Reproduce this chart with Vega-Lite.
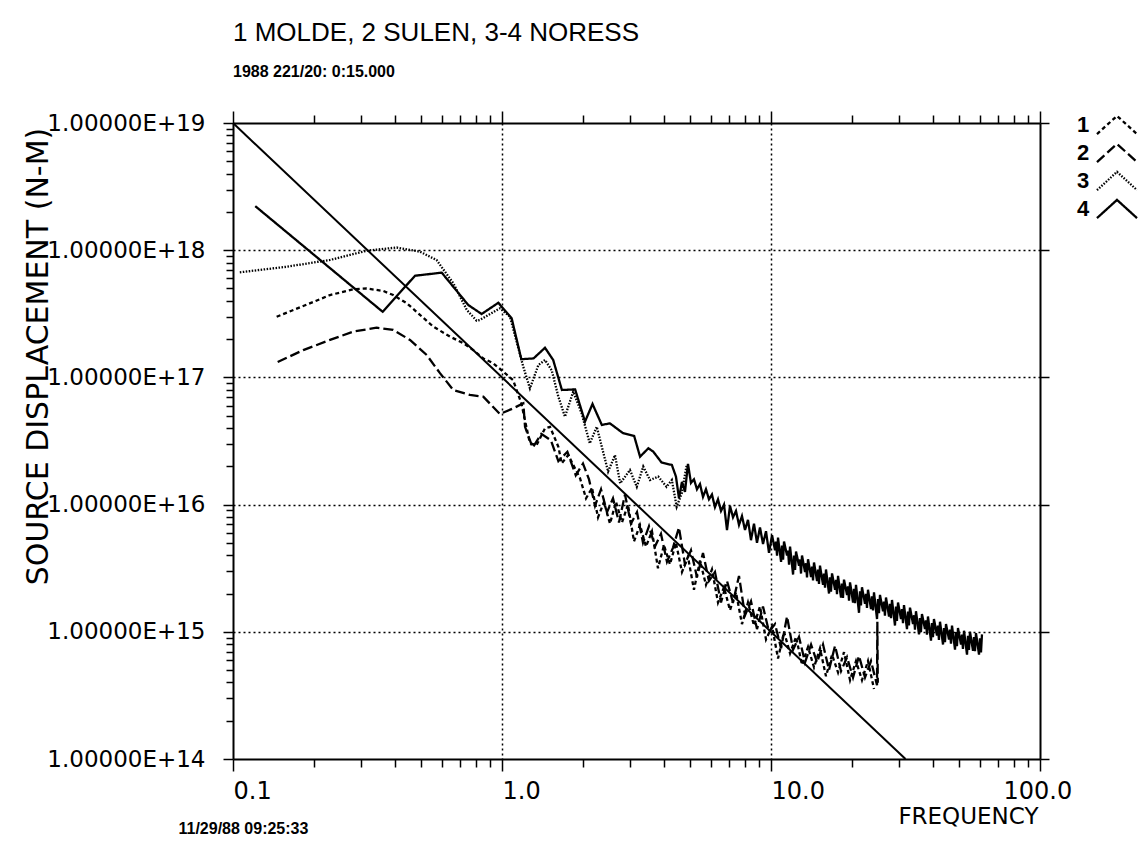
{
  "$schema": "https://vega.github.io/schema/vega-lite/v6.json",
  "width": 807,
  "height": 636,
  "autosize": {"type": "none"},
  "padding": {"left": 233, "top": 123, "right": 107, "bottom": 100},
  "background": "white",
  "config": {"view": {"stroke": null}},
  "title": {
    "text": "1 MOLDE, 2 SULEN, 3-4 NORESS",
    "subtitle": "1988 221/20: 0:15.000",
    "anchor": "start",
    "frame": "group",
    "font": "Liberation Sans",
    "fontSize": 26,
    "fontWeight": "normal",
    "color": "black",
    "subtitleFont": "Liberation Sans",
    "subtitleFontSize": 16,
    "subtitleFontWeight": "bold",
    "subtitleColor": "black",
    "subtitlePadding": 18,
    "offset": 30
  },
  "datasets": {
    "ref": [{"f": 0.1, "v": 1e19}, {"f": 31.62, "v": 1e14}],
    "spec": [
      {"s":"1","f":0.1453,"v":3.0e17},{"s":"1","f":0.1825,"v":3.64e17},{"s":"1","f":0.2294,"v":4.44e17},{"s":"1","f":0.280,"v":4.93e17},{"s":"1","f":0.314,"v":5.0e17},{"s":"1","f":0.362,"v":4.78e17},{"s":"1","f":0.394,"v":4.44e17},{"s":"1","f":0.4426,"v":3.83e17},{"s":"1","f":0.4955,"v":3.10e17},{"s":"1","f":0.555,"v":2.51e17},{"s":"1","f":0.641,"v":2.09e17},{"s":"1","f":0.718,"v":1.86e17},{"s":"1","f":0.782,"v":1.64e17},{"s":"1","f":0.852,"v":1.41e17},{"s":"1","f":0.928,"v":1.29e17},{"s":"1","f":1.011,"v":1.11e17},{"s":"1","f":1.10,"v":9.5e16},{"s":"1","f":1.18,"v":6.26e16},{"s":"1","f":1.27,"v":3.03e16},{"s":"1","f":1.345,"v":2.94e16},{"s":"1","f":1.445,"v":3.98e16},{"s":"1","f":1.508,"v":4.09e16},{"s":"1","f":1.62,"v":2.85e16},{"s":"1","f":1.667,"v":2.11e16},{"s":"1","f":1.764,"v":2.45e16},{"s":"1","f":1.867,"v":1.93e16},{"s":"1","f":1.95,"v":1.61e16},
      {"s":"1","f":2.053,"v":1.12e16},{"s":"1","f":2.161,"v":1.35e16},{"s":"1","f":2.275,"v":7.94e15},{"s":"1","f":2.394,"v":1.05e16},{"s":"1","f":2.520,"v":7.08e15},{"s":"1","f":2.653,"v":1.05e16},{"s":"1","f":2.793,"v":7.24e15},{"s":"1","f":2.940,"v":1.0e16},{"s":"1","f":3.095,"v":5.13e15},{"s":"1","f":3.258,"v":6.92e15},{"s":"1","f":3.430,"v":4.68e15},{"s":"1","f":3.610,"v":6.17e15},{"s":"1","f":3.800,"v":3.16e15},{"s":"1","f":4.001,"v":4.79e15},{"s":"1","f":4.211,"v":3.39e15},{"s":"1","f":4.433,"v":5.01e15},{"s":"1","f":4.667,"v":2.95e15},{"s":"1","f":4.913,"v":3.89e15},{"s":"1","f":5.172,"v":2.14e15},{"s":"1","f":5.445,"v":3.63e15},{"s":"1","f":5.731,"v":2.34e15},{"s":"1","f":6.033,"v":3.09e15},{"s":"1","f":6.353,"v":1.70e15},{"s":"1","f":6.687,"v":2.24e15},{"s":"1","f":7.040,"v":1.48e15},{"s":"1","f":7.411,"v":2.04e15},{"s":"1","f":7.801,"v":1.15e15},{"s":"1","f":8.212,"v":1.70e15},{"s":"1","f":8.645,"v":1.12e15},{"s":"1","f":9.101,"v":1.58e15},{"s":"1","f":9.581,"v":8.71e14},{"s":"1","f":10.09,"v":1.10e15},{"s":"1","f":10.62,"v":6.17e14},{"s":"1","f":11.18,"v":1.0e15},{"s":"1","f":11.77,"v":6.76e14},{"s":"1","f":12.39,"v":9.12e14},{"s":"1","f":13.04,"v":5.50e14},{"s":"1","f":13.73,"v":7.59e14},{"s":"1","f":14.45,"v":5.25e14},{"s":"1","f":15.21,"v":7.41e14},{"s":"1","f":16.01,"v":4.47e14},{"s":"1","f":16.86,"v":6.61e14},{"s":"1","f":17.75,"v":4.79e14},{"s":"1","f":18.68,"v":6.92e14},{"s":"1","f":19.67,"v":4.17e14},{"s":"1","f":20.70,"v":5.89e14},{"s":"1","f":21.79,"v":4.17e14},{"s":"1","f":22.94,"v":5.89e14},{"s":"1","f":24.15,"v":3.55e14},
      {"s":"2","f":0.1466,"v":1.32e17},{"s":"2","f":0.1825,"v":1.64e17},{"s":"2","f":0.2294,"v":1.97e17},{"s":"2","f":0.280,"v":2.29e17},{"s":"2","f":0.342,"v":2.46e17},{"s":"2","f":0.394,"v":2.36e17},{"s":"2","f":0.455,"v":1.97e17},{"s":"2","f":0.525,"v":1.50e17},{"s":"2","f":0.588,"v":1.08e17},{"s":"2","f":0.659,"v":7.96e16},{"s":"2","f":0.760,"v":7.28e16},{"s":"2","f":0.852,"v":7.05e16},{"s":"2","f":0.983,"v":5.15e16},{"s":"2","f":1.10,"v":5.71e16},{"s":"2","f":1.20,"v":6.26e16},{"s":"2","f":1.218,"v":4.09e16},{"s":"2","f":1.30,"v":2.8e16},{"s":"2","f":1.40,"v":3.6e16},{"s":"2","f":1.52,"v":3.2e16},{"s":"2","f":1.62,"v":2.2e16},{"s":"2","f":1.75,"v":2.6e16},{"s":"2","f":1.88,"v":1.7e16},{"s":"2","f":2.0,"v":2.1e16},
      {"s":"2","f":2.106,"v":1.58e16},{"s":"2","f":2.217,"v":9.77e15},{"s":"2","f":2.334,"v":1.32e16},{"s":"2","f":2.456,"v":8.71e15},{"s":"2","f":2.586,"v":1.12e16},{"s":"2","f":2.722,"v":7.24e15},{"s":"2","f":2.866,"v":1.20e16},{"s":"2","f":3.016,"v":7.08e15},{"s":"2","f":3.176,"v":8.71e15},{"s":"2","f":3.343,"v":5.01e15},{"s":"2","f":3.519,"v":6.76e15},{"s":"2","f":3.704,"v":4.68e15},{"s":"2","f":3.899,"v":5.89e15},{"s":"2","f":4.105,"v":3.55e15},{"s":"2","f":4.320,"v":4.57e15},{"s":"2","f":4.548,"v":6.61e15},{"s":"2","f":4.788,"v":3.39e15},{"s":"2","f":5.041,"v":4.37e15},{"s":"2","f":5.306,"v":2.69e15},{"s":"2","f":5.587,"v":4.17e15},{"s":"2","f":5.880,"v":2.51e15},{"s":"2","f":6.190,"v":2.95e15},{"s":"2","f":6.518,"v":1.70e15},{"s":"2","f":6.861,"v":2.51e15},{"s":"2","f":7.223,"v":1.70e15},{"s":"2","f":7.604,"v":2.75e15},{"s":"2","f":8.004,"v":1.35e15},{"s":"2","f":8.426,"v":1.74e15},{"s":"2","f":8.870,"v":1.05e15},{"s":"2","f":9.338,"v":1.58e15},{"s":"2","f":9.830,"v":1.0e15},{"s":"2","f":10.35,"v":1.15e15},{"s":"2","f":10.90,"v":7.41e14},{"s":"2","f":11.47,"v":1.32e15},{"s":"2","f":12.08,"v":7.24e14},{"s":"2","f":12.71,"v":9.12e14},{"s":"2","f":13.38,"v":5.75e14},{"s":"2","f":14.09,"v":7.94e14},{"s":"2","f":14.83,"v":5.75e14},{"s":"2","f":15.61,"v":7.94e14},{"s":"2","f":16.43,"v":5.01e14},{"s":"2","f":17.30,"v":7.76e14},{"s":"2","f":18.21,"v":4.90e14},{"s":"2","f":19.17,"v":6.31e14},{"s":"2","f":20.18,"v":4.37e14},{"s":"2","f":21.24,"v":6.46e14},{"s":"2","f":22.36,"v":4.37e14},{"s":"2","f":23.54,"v":5.89e14},{"s":"2","f":24.78,"v":3.80e14},{"s":"2","f":24.85,"v":1.20e15},{"s":"2","f":24.95,"v":3.98e14},
      {"s":"3","f":0.106,"v":6.70e17},{"s":"3","f":0.158,"v":7.41e17},{"s":"3","f":0.2296,"v":8.38e17},{"s":"3","f":0.314,"v":9.91e17},{"s":"3","f":0.406,"v":1.05e18},{"s":"3","f":0.4955,"v":9.73e17},{"s":"3","f":0.571,"v":8.38e17},{"s":"3","f":0.659,"v":5.50e17},{"s":"3","f":0.740,"v":3.39e17},{"s":"3","f":0.805,"v":2.79e17},{"s":"3","f":0.828,"v":2.83e17},{"s":"3","f":0.983,"v":3.49e17},{"s":"3","f":1.071,"v":3.0e17},{"s":"3","f":1.20,"v":1.21e17},{"s":"3","f":1.27,"v":8.2e16},{"s":"3","f":1.365,"v":1.25e17},{"s":"3","f":1.445,"v":1.37e17},{"s":"3","f":1.53,"v":1.14e17},{"s":"3","f":1.62,"v":7.05e16},{"s":"3","f":1.714,"v":4.91e16},{"s":"3","f":1.84,"v":7.73e16},{"s":"3","f":1.977,"v":5.22e16},{"s":"3","f":2.12,"v":3.03e16},{"s":"3","f":2.25,"v":4.09e16},{"s":"3","f":2.48,"v":1.82e16},{"s":"3","f":2.63,"v":2.45e16},{"s":"3","f":2.75,"v":1.47e16},{"s":"3","f":2.99,"v":1.87e16},{"s":"3","f":3.17,"v":1.38e16},{"s":"3","f":3.35,"v":1.99e16},{"s":"3","f":3.55,"v":1.56e16},{"s":"3","f":3.81,"v":1.66e16},{"s":"3","f":4.09,"v":1.38e16},{"s":"3","f":4.28,"v":1.56e16},{"s":"3","f":4.46,"v":9.62e15},{"s":"3","f":4.66,"v":1.23e16},{"s":"3","f":4.86,"v":2.05e16},
      {"s":"4","f":0.121,"v":2.22e18},{"s":"4","f":0.360,"v":3.28e17},{"s":"4","f":0.475,"v":6.3e17},{"s":"4","f":0.597,"v":6.66e17},{"s":"4","f":0.749,"v":3.71e17},{"s":"4","f":0.840,"v":3.15e17},{"s":"4","f":0.969,"v":3.86e17},{"s":"4","f":1.086,"v":2.92e17},{"s":"4","f":1.18,"v":1.39e17},{"s":"4","f":1.31,"v":1.41e17},{"s":"4","f":1.445,"v":1.71e17},{"s":"4","f":1.55,"v":1.37e17},{"s":"4","f":1.67,"v":7.96e16},{"s":"4","f":1.87,"v":8.05e16},{"s":"4","f":2.035,"v":4.49e16},{"s":"4","f":2.17,"v":6.18e16},{"s":"4","f":2.35,"v":4.23e16},{"s":"4","f":2.52,"v":4.35e16},{"s":"4","f":2.82,"v":3.64e16},{"s":"4","f":3.10,"v":3.46e16},{"s":"4","f":3.26,"v":2.38e16},{"s":"4","f":3.50,"v":2.77e16},{"s":"4","f":3.65,"v":2.61e16},{"s":"4","f":3.92,"v":2.14e16},{"s":"4","f":4.28,"v":2.05e16},
      {"s":"4","f":4.433,"v":1.66e16},{"s":"4","f":4.549,"v":1.12e16},{"s":"4","f":4.667,"v":1.51e16},{"s":"4","f":4.789,"v":1.26e16},{"s":"4","f":4.913,"v":2.09e16},{"s":"4","f":5.041,"v":1.48e16},{"s":"4","f":5.172,"v":1.58e16},{"s":"4","f":5.307,"v":1.32e16},{"s":"4","f":5.445,"v":1.45e16},{"s":"4","f":5.587,"v":1.15e16},{"s":"4","f":5.731,"v":1.32e16},{"s":"4","f":5.881,"v":1.10e16},{"s":"4","f":6.033,"v":1.20e16},{"s":"4","f":6.190,"v":9.55e15},{"s":"4","f":6.353,"v":1.10e16},{"s":"4","f":6.519,"v":8.91e15},{"s":"4","f":6.687,"v":1.0e16},{"s":"4","f":6.861,"v":6.31e15},{"s":"4","f":7.040,"v":9.77e15},{"s":"4","f":7.224,"v":7.94e15},{"s":"4","f":7.411,"v":8.91e15},{"s":"4","f":7.604,"v":6.92e15},{"s":"4","f":7.801,"v":8.13e15},{"s":"4","f":8.005,"v":6.31e15},{"s":"4","f":8.212,"v":7.59e15},{"s":"4","f":8.426,"v":5.25e15},{"s":"4","f":8.645,"v":7.08e15},{"s":"4","f":8.870,"v":5.01e15},{"s":"4","f":9.101,"v":6.61e15},{"s":"4","f":9.339,"v":4.90e15},{"s":"4","f":9.581,"v":6.17e15},{"s":"4","f":9.831,"v":4.17e15},{"s":"4","f":10.09,"v":5.75e15},{"s":"4","f":10.35,"v":4.37e15},
      {"s":"4","f":10.44,"v":5.12e15},{"s":"4","f":10.53,"v":3.96e15},{"s":"4","f":10.62,"v":5.50e15},{"s":"4","f":10.90,"v":3.55e15},
      {"s":"4","f":10.99,"v":4.77e15},{"s":"4","f":11.09,"v":3.69e15},{"s":"4","f":11.18,"v":5.13e15},{"s":"4","f":11.47,"v":3.98e15},
      {"s":"4","f":11.57,"v":4.35e15},{"s":"4","f":11.67,"v":3.37e15},{"s":"4","f":11.77,"v":4.68e15},{"s":"4","f":12.08,"v":2.82e15},
      {"s":"4","f":12.18,"v":3.97e15},{"s":"4","f":12.29,"v":3.07e15},{"s":"4","f":12.39,"v":4.27e15},{"s":"4","f":12.71,"v":3.31e15},
      {"s":"4","f":12.82,"v":3.70e15},{"s":"4","f":12.93,"v":2.87e15},{"s":"4","f":13.04,"v":3.98e15},{"s":"4","f":13.38,"v":2.95e15},
      {"s":"4","f":13.49,"v":3.46e15},{"s":"4","f":13.61,"v":2.68e15},{"s":"4","f":13.73,"v":3.72e15},{"s":"4","f":14.09,"v":2.69e15},
      {"s":"4","f":14.21,"v":3.26e15},{"s":"4","f":14.33,"v":2.53e15},{"s":"4","f":14.45,"v":3.51e15},{"s":"4","f":14.83,"v":2.51e15},
      {"s":"4","f":14.96,"v":3.08e15},{"s":"4","f":15.08,"v":2.38e15},{"s":"4","f":15.21,"v":3.31e15},{"s":"4","f":15.61,"v":2.34e15},
      {"s":"4","f":15.74,"v":2.87e15},{"s":"4","f":15.88,"v":2.22e15},{"s":"4","f":16.01,"v":3.09e15},{"s":"4","f":16.43,"v":2.0e15},
      {"s":"4","f":16.57,"v":2.68e15},{"s":"4","f":16.71,"v":2.07e15},{"s":"4","f":16.86,"v":2.88e15},{"s":"4","f":17.30,"v":2.14e15},
      {"s":"4","f":17.45,"v":2.56e15},{"s":"4","f":17.59,"v":1.98e15},{"s":"4","f":17.75,"v":2.75e15},{"s":"4","f":18.21,"v":1.86e15},
      {"s":"4","f":18.36,"v":2.39e15},{"s":"4","f":18.52,"v":1.85e15},{"s":"4","f":18.68,"v":2.57e15},{"s":"4","f":19.17,"v":1.95e15},
      {"s":"4","f":19.33,"v":2.28e15},{"s":"4","f":19.50,"v":1.76e15},{"s":"4","f":19.67,"v":2.45e15},{"s":"4","f":20.18,"v":1.70e15},
      {"s":"4","f":20.35,"v":2.18e15},{"s":"4","f":20.52,"v":1.68e15},{"s":"4","f":20.70,"v":2.34e15},{"s":"4","f":21.24,"v":1.41e15},
      {"s":"4","f":21.42,"v":2.08e15},{"s":"4","f":21.60,"v":1.61e15},{"s":"4","f":21.79,"v":2.24e15},{"s":"4","f":22.36,"v":1.66e15},
      {"s":"4","f":22.55,"v":1.99e15},{"s":"4","f":22.74,"v":1.54e15},{"s":"4","f":22.94,"v":2.14e15},{"s":"4","f":23.54,"v":1.51e15},
      {"s":"4","f":23.74,"v":1.90e15},{"s":"4","f":23.94,"v":1.47e15},{"s":"4","f":24.15,"v":2.04e15},{"s":"4","f":24.78,"v":1.26e15},
      {"s":"4","f":24.99,"v":1.81e15},{"s":"4","f":25.20,"v":1.40e15},{"s":"4","f":25.42,"v":1.95e15},{"s":"4","f":26.08,"v":1.45e15},
      {"s":"4","f":26.30,"v":1.73e15},{"s":"4","f":26.52,"v":1.34e15},{"s":"4","f":26.76,"v":1.86e15},{"s":"4","f":27.46,"v":1.32e15},
      {"s":"4","f":27.69,"v":1.66e15},{"s":"4","f":27.93,"v":1.28e15},{"s":"4","f":28.17,"v":1.78e15},{"s":"4","f":28.90,"v":1.12e15},
      {"s":"4","f":29.15,"v":1.58e15},{"s":"4","f":29.39,"v":1.22e15},{"s":"4","f":29.66,"v":1.70e15},{"s":"4","f":30.43,"v":1.26e15},
      {"s":"4","f":30.69,"v":1.51e15},{"s":"4","f":30.95,"v":1.17e15},{"s":"4","f":31.22,"v":1.62e15},{"s":"4","f":32.03,"v":1.05e15},
      {"s":"4","f":32.30,"v":1.44e15},{"s":"4","f":32.57,"v":1.12e15},{"s":"4","f":32.86,"v":1.55e15},{"s":"4","f":33.72,"v":1.15e15},
      {"s":"4","f":34.01,"v":1.35e15},{"s":"4","f":34.29,"v":1.04e15},{"s":"4","f":34.59,"v":1.45e15},{"s":"4","f":35.49,"v":9.55e14},
      {"s":"4","f":35.79,"v":1.28e15},{"s":"4","f":36.09,"v":9.94e14},{"s":"4","f":36.41,"v":1.38e15},{"s":"4","f":37.36,"v":1.05e15},
      {"s":"4","f":37.68,"v":1.23e15},{"s":"4","f":37.99,"v":9.50e14},{"s":"4","f":38.33,"v":1.32e15},{"s":"4","f":39.33,"v":8.51e14},
      {"s":"4","f":39.66,"v":1.17e15},{"s":"4","f":40.00,"v":9.07e14},{"s":"4","f":40.35,"v":1.26e15},{"s":"4","f":41.40,"v":9.33e14},
      {"s":"4","f":41.75,"v":1.12e15},{"s":"4","f":42.10,"v":8.64e14},{"s":"4","f":42.49,"v":1.20e15},{"s":"4","f":43.60,"v":7.94e14},
      {"s":"4","f":43.97,"v":1.07e15},{"s":"4","f":44.34,"v":8.28e14},{"s":"4","f":44.73,"v":1.15e15},{"s":"4","f":45.89,"v":8.71e14},
      {"s":"4","f":46.28,"v":1.04e15},{"s":"4","f":46.67,"v":8.06e14},{"s":"4","f":47.08,"v":1.12e15},{"s":"4","f":48.31,"v":7.24e14},
      {"s":"4","f":48.72,"v":9.95e14},{"s":"4","f":49.13,"v":7.70e14},{"s":"4","f":49.56,"v":1.07e15},{"s":"4","f":50.85,"v":7.94e14},
      {"s":"4","f":51.28,"v":9.49e14},{"s":"4","f":51.71,"v":7.34e14},{"s":"4","f":52.18,"v":1.02e15},{"s":"4","f":53.54,"v":6.61e14},
      {"s":"4","f":53.99,"v":9.30e14},{"s":"4","f":54.45,"v":7.20e14},{"s":"4","f":54.93,"v":1.0e15},{"s":"4","f":56.36,"v":7.08e14},
      {"s":"4","f":56.84,"v":9.09e14},{"s":"4","f":57.32,"v":7.03e14},{"s":"4","f":57.82,"v":9.77e14},{"s":"4","f":59.33,"v":6.61e14},
      {"s":"4","f":59.83,"v":8.88e14},{"s":"4","f":60.34,"v":6.88e14},{"s":"4","f":60.86,"v":9.55e14}
    ]
  },
  "resolve": {"axis": {"x": "independent", "y": "independent"}},
  "layer": [
    {
      "data": {"name": "ref"},
      "mark": {"type": "line", "color": "black", "strokeWidth": 2},
      "encoding": {
        "x": {
          "field": "f", "type": "quantitative",
          "scale": {"type": "log", "domain": [0.1, 100], "nice": false},
          "axis": {
            "orient": "bottom",
            "values": [0.1,0.2,0.3,0.4,0.5,0.6,0.7,0.8,0.9,1,2,3,4,5,6,7,8,9,10,20,30,40,50,60,70,80,90,100],
            "labelExpr": "datum.value == 0.1 ? '0.1' : datum.value == 1 ? '1.0' : datum.value == 10 ? '10.0' : datum.value == 100 ? '100.0' : ''",
            "labelOverlap": false, "labelFlush": false, "labelBound": false,
            "labelFont": "DejaVu Sans", "labelFontSize": 24, "labelColor": "black",
            "labelAlign": "left", "labelBaseline": "top", "labelPadding": 8,
            "labelOffset": {"condition": {"test": "datum.value == 100", "value": -37}, "value": 0},
            "tickColor": "black", "tickWidth": 1.5,
            "tickSize": {"condition": {"test": "indexof([0.1,1,10,100], datum.value) >= 0", "value": 12}, "value": 8},
            "domainColor": "black", "domainWidth": 2,
            "grid": true, "gridColor": "black", "gridDash": [2, 3], "gridWidth": 1.5,
            "gridOpacity": {"condition": {"test": "datum.value == 1 || datum.value == 10", "value": 1}, "value": 0},
            "title": "11/29/88 09:25:33",
            "titleX": -55, "titleY": 69, "titleAlign": "left", "titleBaseline": "middle", "titleAngle": 0,
            "titleFont": "Liberation Sans", "titleFontSize": 16, "titleFontWeight": "bold", "titleColor": "black"
          }
        },
        "y": {
          "field": "v", "type": "quantitative",
          "scale": {"type": "log", "domain": [1e14, 1e19], "nice": false},
          "axis": {
            "orient": "left",
            "values": [1e14,2e14,3e14,4e14,5e14,6e14,7e14,8e14,9e14,1e15,2e15,3e15,4e15,5e15,6e15,7e15,8e15,9e15,1e16,2e16,3e16,4e16,5e16,6e16,7e16,8e16,9e16,1e17,2e17,3e17,4e17,5e17,6e17,7e17,8e17,9e17,1e18,2e18,3e18,4e18,5e18,6e18,7e18,8e18,9e18,1e19],
            "labelExpr": "indexof([1e14,1e15,1e16,1e17,1e18,1e19], datum.value) >= 0 ? '1.00000E+' + format(log(datum.value)/LN10, '.0f') : ''",
            "labelOverlap": false, "labelFlush": false, "labelBound": false,
            "labelFont": "DejaVu Sans", "labelFontSize": 23, "labelColor": "black",
            "labelAlign": "right", "labelBaseline": "middle", "labelPadding": 18,
            "tickColor": "black", "tickWidth": 1.5,
            "tickSize": {"condition": {"test": "indexof([1e14,1e15,1e16,1e17,1e18,1e19], datum.value) >= 0", "value": 10}, "value": 7},
            "domainColor": "black", "domainWidth": 2,
            "grid": true, "gridColor": "black", "gridDash": [2, 3], "gridWidth": 1.5,
            "gridOpacity": {"condition": {"test": "indexof([1e15,1e16,1e17,1e18], datum.value) >= 0", "value": 1}, "value": 0},
            "title": "SOURCE DISPLACEMENT (N-M)",
            "titleX": -195, "titleY": 233, "titleAngle": 270, "titleAlign": "center", "titleBaseline": "middle",
            "titleFont": "DejaVu Sans", "titleFontSize": 30, "titleFontWeight": "normal", "titleColor": "black"
          }
        }
      }
    },
    {
      "data": {"name": "spec"},
      "mark": {"type": "line", "color": "black"},
      "encoding": {
        "x": {
          "field": "f", "type": "quantitative",
          "axis": {
            "orient": "top",
            "values": [0.1,0.2,0.3,0.4,0.5,0.6,0.7,0.8,0.9,1,2,3,4,5,6,7,8,9,10,20,30,40,50,60,70,80,90,100],
            "labels": false, "grid": false,
            "tickColor": "black", "tickWidth": 1.5,
            "tickSize": {"condition": {"test": "indexof([0.1,1,10,100], datum.value) >= 0", "value": 12}, "value": 8},
            "domainColor": "black", "domainWidth": 2,
            "title": "FREQUENCY",
            "titleX": 805, "titleY": 693, "titleAlign": "right", "titleBaseline": "middle", "titleAngle": 0,
            "titleFont": "DejaVu Sans", "titleFontSize": 23, "titleFontWeight": "normal", "titleColor": "black"
          }
        },
        "y": {
          "field": "v", "type": "quantitative",
          "axis": {
            "orient": "right",
            "values": [1e14,1e15,1e16,1e17,1e18,1e19],
            "labels": false, "grid": false,
            "tickColor": "black", "tickWidth": 1.5, "tickSize": 9,
            "domainColor": "black", "domainWidth": 2,
            "title": null
          }
        },
        "strokeDash": {
          "field": "s", "type": "nominal",
          "scale": {"domain": ["1","2","3","4"], "range": [[4,3],[10,4],[1.5,1.5],[1,0]]},
          "legend": {
            "orient": "none", "legendX": 866, "legendY": -9,
            "title": null, "padding": 0, "rowPadding": 0,
            "symbolType": "M-2.86,1.3L0,-1.3L2.86,1.3",
            "symbolSize": 196, "symbolStrokeColor": "black", "symbolStrokeWidth": 2, "symbolFillColor": "transparent",
            "symbolOffset": 7,
            "labelFont": "Liberation Sans", "labelFontSize": 22, "labelFontWeight": "bold", "labelColor": "black",
            "labelAlign": "left", "labelOffset": -51
          }
        },
        "strokeWidth": {
          "field": "s", "type": "ordinal",
          "scale": {"domain": ["1","2","3","4"], "range": [2.3, 2.3, 1.3, 2.6]},
          "legend": null
        }
      }
    }
  ]
}
